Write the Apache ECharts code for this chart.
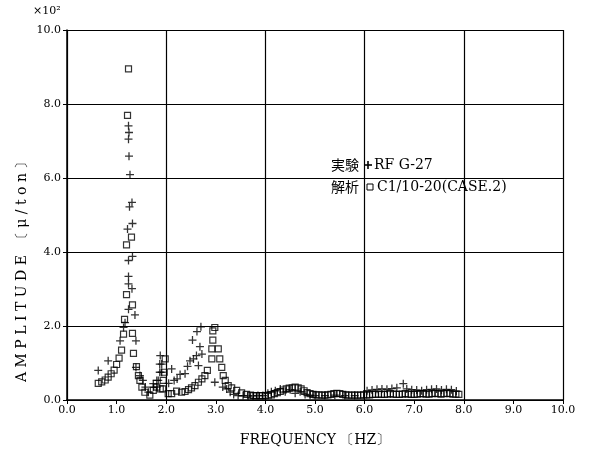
<!DOCTYPE html>
<html><head><meta charset="utf-8">
<script src="https://cdn.jsdelivr.net/npm/echarts@6/dist/echarts.min.js"></script>
<style>html,body{margin:0;padding:0;background:#fff}#c{width:594px;height:452px}</style>
</head><body><div id="c"></div>
<script>
// Analysis (解析 C1/10-20(CASE.2)) — square markers
var anaFreq = [0.63,0.70,0.77,0.83,0.89,0.95,1.00,1.05,1.10,1.14,1.16,1.20,1.20,1.22,1.24,1.30,1.32,1.32,1.34,1.40,1.44,1.47,1.51,1.57,1.67,1.74,1.81,1.88,1.93,1.94,1.96,1.98,2.04,2.11,2.21,2.31,2.38,2.45,2.51,2.58,2.65,2.72,2.78,2.83,2.92,2.92,2.94,2.94,2.98,3.05,3.08,3.12,3.15,3.19,3.25,3.32,3.42,3.52,3.62,3.70,3.76,3.82,3.88,3.94,4.00,4.06,4.12,4.18,4.24,4.30,4.36,4.42,4.48,4.54,4.60,4.66,4.72,4.78,4.84,4.90,4.96,5.02,5.08,5.14,5.20,5.26,5.32,5.38,5.44,5.50,5.56,5.62,5.68,5.74,5.80,5.86,5.92,5.98,6.04,6.10,6.16,6.22,6.28,6.34,6.40,6.46,6.52,6.58,6.64,6.70,6.76,6.82,6.88,6.94,7.00,7.06,7.12,7.18,7.24,7.30,7.36,7.42,7.48,7.54,7.60,7.66,7.72,7.78,7.84,7.90];
var anaAmp  = [0.45,0.49,0.54,0.62,0.71,0.81,0.96,1.13,1.35,1.78,2.18,4.19,2.85,7.69,8.95,4.40,2.57,1.80,1.26,0.90,0.66,0.53,0.35,0.21,0.13,0.26,0.35,0.30,0.30,0.53,0.75,1.11,0.17,0.17,0.24,0.21,0.23,0.28,0.33,0.39,0.48,0.57,0.66,0.80,1.11,1.38,1.62,1.87,1.96,1.38,1.11,0.88,0.66,0.53,0.39,0.33,0.26,0.19,0.15,0.13,0.12,0.12,0.12,0.12,0.12,0.13,0.14,0.17,0.20,0.23,0.27,0.30,0.32,0.33,0.35,0.33,0.30,0.25,0.20,0.17,0.15,0.14,0.14,0.13,0.13,0.14,0.15,0.17,0.18,0.17,0.15,0.14,0.13,0.13,0.13,0.13,0.13,0.14,0.14,0.14,0.15,0.15,0.16,0.15,0.15,0.16,0.17,0.16,0.15,0.15,0.16,0.17,0.16,0.15,0.15,0.16,0.17,0.17,0.16,0.16,0.17,0.18,0.17,0.16,0.17,0.18,0.17,0.16,0.16,0.15];
// Experiment (実験 RF G-27) — cross markers
var expFreq = [0.63,0.83,1.07,1.14,1.17,1.22,1.24,1.24,1.24,1.24,1.24,1.24,1.25,1.25,1.26,1.27,1.31,1.31,1.32,1.32,1.37,1.39,1.39,1.47,1.53,1.58,1.64,1.74,1.74,1.81,1.81,1.84,1.87,1.87,1.88,1.91,1.91,2.05,2.11,2.16,2.22,2.28,2.38,2.43,2.48,2.53,2.55,2.61,2.62,2.65,2.68,2.70,2.72,2.98,3.14,3.22,3.29,3.36,3.45,3.55,3.65,3.75,3.85,3.95,4.05,4.12,4.20,4.30,4.40,4.50,4.60,4.70,4.80,4.90,5.00,5.20,5.40,5.60,5.80,6.05,6.15,6.25,6.35,6.45,6.55,6.65,6.78,6.85,6.95,7.05,7.15,7.25,7.35,7.45,7.55,7.65,7.75,7.85];
var expAmp  = [0.80,1.06,1.60,1.96,2.09,4.62,2.45,3.14,3.34,3.77,7.05,7.41,7.23,6.59,5.22,6.09,5.34,3.01,4.77,3.88,2.30,1.60,0.88,0.66,0.53,0.35,0.21,0.35,0.44,0.53,0.35,0.53,0.75,0.97,1.20,0.97,0.75,0.45,0.84,0.53,0.57,0.69,0.71,0.91,1.06,1.62,1.11,1.20,1.85,0.93,1.44,1.98,1.24,0.48,0.35,0.30,0.21,0.15,0.12,0.12,0.11,0.11,0.12,0.12,0.18,0.22,0.25,0.30,0.22,0.28,0.18,0.22,0.15,0.13,0.12,0.12,0.13,0.12,0.12,0.25,0.27,0.29,0.30,0.29,0.31,0.33,0.44,0.30,0.28,0.27,0.25,0.28,0.29,0.30,0.27,0.29,0.28,0.24];
var xTicks = [0,1,2,3,4,5,6,7,8,9,10];
var yTicks = [0,2,4,6,8,10];

function pairs(a,b){var r=[];for(var i=0;i<a.length;i++)r.push([a[i],b[i]]);return r;}
var F = '"DejaVu Serif","Liberation Serif",serif';
var chart = echarts.init(document.getElementById('c'), null, {renderer:'canvas'});
chart.setOption({
  animation:false,
  backgroundColor:'#fff',
  grid:{left:67,right:31,top:30,bottom:49},
  xAxis:[{
    type:'value',min:xTicks[0],max:xTicks[xTicks.length-1],interval:1,
    axisLine:{show:true,onZero:false,lineStyle:{color:'#000',width:1.5}},
    axisTick:{show:true,length:4,lineStyle:{color:'#000'}},
    axisLabel:{color:'#000',fontFamily:F,fontSize:11,margin:5,formatter:function(v){return v.toFixed(1);}},
    splitLine:{show:false},
    name:'FREQUENCY \u3014HZ\u3015',nameLocation:'middle',nameGap:33,
    nameTextStyle:{color:'#000',fontFamily:F,fontSize:14}
  },{
    type:'value',min:0,max:10,interval:2,position:'top',
    axisLine:{show:false},axisTick:{show:false},axisLabel:{show:false},
    splitLine:{show:true,lineStyle:{color:'#000',width:1.2}}
  }],
  yAxis:{
    type:'value',min:yTicks[0],max:yTicks[yTicks.length-1],interval:2,
    axisLine:{show:true,lineStyle:{color:'#000',width:1.5}},
    axisTick:{show:true,length:4,lineStyle:{color:'#000'}},
    axisLabel:{color:'#000',fontFamily:F,fontSize:11,margin:6,formatter:function(v){return v.toFixed(1);}},
    splitLine:{show:true,lineStyle:{color:'#000',width:1.2}}
  },
  series:[{
    type:'scatter',data:pairs(anaFreq,anaAmp),symbol:'rect',symbolSize:6,
    itemStyle:{color:'rgba(255,255,255,0)',borderColor:'#000',borderWidth:1.2}
  },{
    type:'scatter',data:pairs(expFreq,expAmp),
    symbol:'path://M4.2,0h1.6v10h-1.6z M0,4.2h10v1.6h-10z',symbolSize:8,
    itemStyle:{color:'#000'}
  }],
  graphic:[
    {type:'text',left:33,top:6,style:{text:'\u00d710\u00b2',font:'11px '+F,fill:'#000'}},
    {type:'text',x:22,y:382,rotation:Math.PI/2,style:{text:'A M P L I T U D E  \u3014 \u03bc / t o n \u3015',font:'14px '+F,fill:'#000',textAlign:'left',textVerticalAlign:'middle'}},
    {type:'text',x:359,y:165,style:{text:'\u5b9f\u9a13',font:'14px "Noto Sans CJK JP"',fill:'#000',textAlign:'right',textVerticalAlign:'middle'}},
    {type:'rect',shape:{x:367.2,y:161,width:1.6,height:8},style:{fill:'#000'}},
    {type:'rect',shape:{x:364,y:164.2,width:8,height:1.6},style:{fill:'#000'}},
    {type:'text',x:374,y:165,style:{text:'RF G-27',font:'14px '+F,fill:'#000',textVerticalAlign:'middle'}},
    {type:'text',x:359,y:187,style:{text:'\u89e3\u6790',font:'14px "Noto Sans CJK JP"',fill:'#000',textAlign:'right',textVerticalAlign:'middle'}},
    {type:'rect',shape:{x:367,y:184,width:6,height:6},style:{fill:'none',stroke:'#000',lineWidth:1}},
    {type:'text',x:377,y:187,style:{text:'C1/10-20(CASE.2)',font:'14px '+F,fill:'#000',textVerticalAlign:'middle'}}
  ]
});
</script></body></html>
